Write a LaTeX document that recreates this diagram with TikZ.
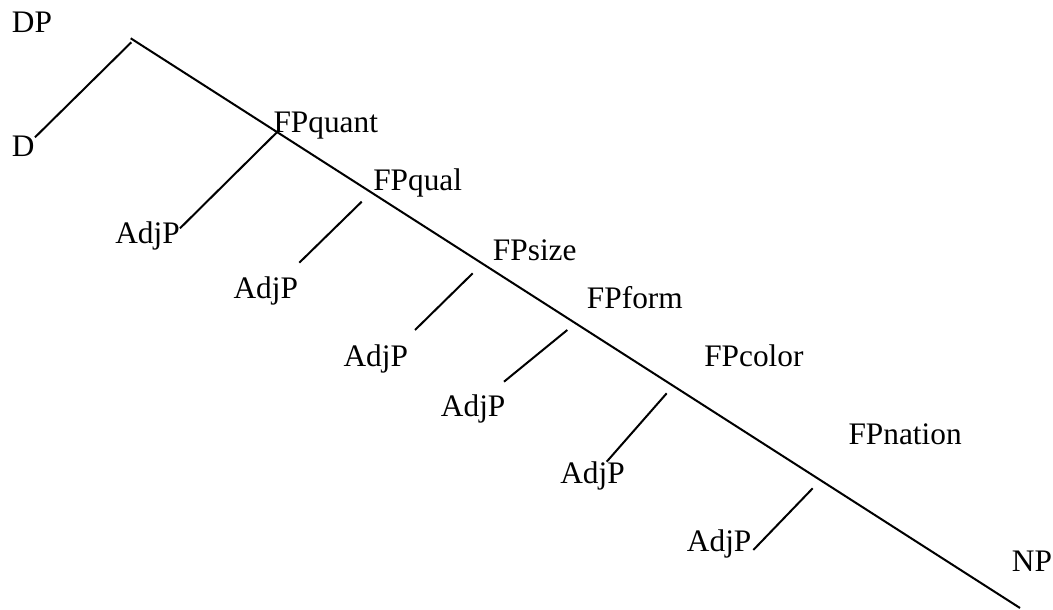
\documentclass[tikz,border=0pt]{standalone}
\usepackage{fontspec}
\setmainfont{Liberation Serif}
\begin{document}
\begin{tikzpicture}[x=0.75pt,y=-0.75pt,
  lab/.style={anchor=base west,inner sep=0pt,font=\fontsize{23.5}{28}\selectfont},
  br/.style={line width=1.5pt,line cap=butt}]
\useasboundingbox (0,0) rectangle (1053,610);
% labels
\node[lab] (dp) at (11.7,33) {DP};
\node[lab] (d) at (11.7,156.7) {D};
\node[lab] (fpquant) at (273.3,132.5) {FPquant};
\node[lab] (fpqual) at (373,190) {FPqual};
\node[lab] (fpsize) at (492.7,260) {FPsize};
\node[lab] (fpform) at (586.7,308.3) {FPform};
\node[lab] (fpcolor) at (704,366) {FPcolor};
\node[lab] (fpnation) at (848.3,444) {FPnation};
\node[lab] (np) at (1011.7,571.7) {NP};
\node[lab] (a1) at (115,243.3) {AdjP};
\node[lab] (a2) at (233.3,298.3) {AdjP};
\node[lab] (a3) at (343.3,366.7) {AdjP};
\node[lab] (a4) at (440.7,416.7) {AdjP};
\node[lab] (a5) at (560,483.3) {AdjP};
\node[lab] (a6) at (686.7,551.7) {AdjP};
% coordinates
\coordinate (top) at (130.7,38.3);
\coordinate (bot) at (1020,608);
\coordinate (dt) at (131.3,42.3);
\coordinate (db) at (35,137.3);
\coordinate (q1) at (276.7,132.5);
\coordinate (q2) at (180,228.3);
\coordinate (u1) at (361.7,201.7);
\coordinate (u2) at (299.3,262.7);
\coordinate (s1) at (472.7,273.3);
\coordinate (s2) at (415,330);
\coordinate (f1) at (567.3,330);
\coordinate (f2) at (504,381.7);
\coordinate (c1) at (666.7,393.3);
\coordinate (c2) at (606.7,461.7);
\coordinate (n1) at (812.7,488.3);
\coordinate (n2) at (753.3,550);
% lines
\draw[br] (top) -- (bot);
\draw[br] (dt) -- (db);
\draw[br] (q1) -- (q2);
\draw[br] (u1) -- (u2);
\draw[br] (s1) -- (s2);
\draw[br] (f1) -- (f2);
\draw[br] (c1) -- (c2);
\draw[br] (n1) -- (n2);
\end{tikzpicture}
\end{document}
